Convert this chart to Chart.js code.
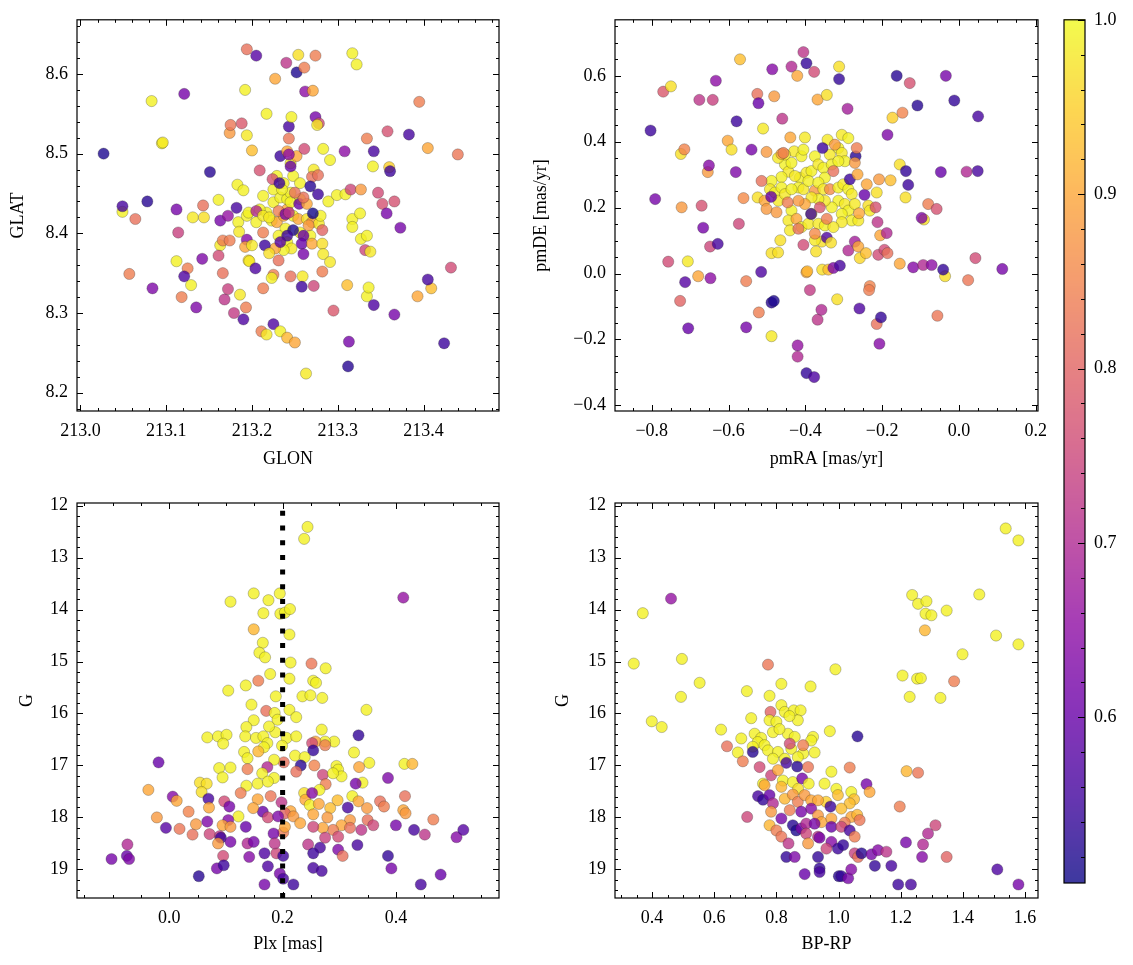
<!DOCTYPE html>
<html><head><meta charset="utf-8">
<script src="https://cdn.jsdelivr.net/npm/chart.js@4"></script>
<style>
html,body{margin:0;padding:0;background:#fff;}
#wrap{position:relative;width:1133px;height:965px;overflow:hidden;background:#fff;}
canvas{position:absolute;}
</style></head><body>
<div id="wrap">
<canvas id="c1" width="530" height="480" style="left:0;top:0;width:530px;height:480px"></canvas>
<canvas id="c2" width="530" height="480" style="left:530px;top:0;width:530px;height:480px"></canvas>
<canvas id="c3" width="530" height="485" style="left:0;top:480px;width:530px;height:485px"></canvas>
<canvas id="c4" width="530" height="485" style="left:530px;top:480px;width:530px;height:485px"></canvas>
<canvas id="cb" width="93" height="965" style="left:1040px;top:0;width:93px;height:965px"></canvas>
</div>
<script>
// ---------- data: [x, y, membership probability] ----------
const skyStars = [
[213.217,8.426,.99],[213.223,8.416,.99],[213.229,8.414,.90],[213.237,8.422,.90],[213.241,8.430,.90],[213.248,8.422,.99],[213.254,8.418,.90],[213.264,8.418,.97],[213.270,8.414,.88],[213.278,8.412,.98],[213.225,8.439,.99],[213.233,8.445,.99],[213.241,8.443,.99],[213.245,8.451,.99],[213.237,8.463,.99],[213.229,8.472,.99],[213.248,8.472,.99],[213.256,8.463,.99],[213.256,8.443,.99],[213.239,8.406,.99],[213.231,8.397,.99],[213.241,8.389,.99],[213.246,8.381,.98],[213.237,8.379,.99],[213.227,8.381,.90],[213.256,8.401,.99],[213.268,8.397,.99],[213.266,8.410,.88],[213.231,8.428,.84],[213.245,8.439,.99],[213.225,8.455,.99],[213.245,8.488,.98],[213.252,8.497,.90],[213.209,8.430,.99],[213.205,8.414,.99],[213.213,8.447,.99],[213.280,8.422,.99],
[213.027,8.500,.52],[213.049,8.427,.99],[213.049,8.434,.56],[213.078,8.440,.53],[213.064,8.418,.82],[213.083,8.566,.99],[213.095,8.513,.99],[213.096,8.514,.98],[213.121,8.575,.62],[213.112,8.430,.62],[213.114,8.401,.74],[213.131,8.420,.98],[213.143,8.435,.82],[213.144,8.420,.97],[213.151,8.477,.53],[213.161,8.442,.99],[213.163,8.416,.62],[213.163,8.385,.98],[213.161,8.372,.76],[213.166,8.391,.84],[213.174,8.391,.84],[213.174,8.526,.88],[213.175,8.536,.83],[213.188,8.538,.78],[213.183,8.461,.99],[213.190,8.454,.99],[213.182,8.432,.56],[213.172,8.422,.66],[213.184,8.414,.99],[213.185,8.402,.98],[213.194,8.523,.98],[213.192,8.580,.99],[213.194,8.631,.82],[213.205,8.623,.58],[213.200,8.504,.93],[213.194,8.422,.99],[213.196,8.426,.99],[213.194,8.392,.64],[213.192,8.383,.90],[213.200,8.385,.98],[213.196,8.366,.97],[213.197,8.365,.98],[213.204,8.356,.57],[213.205,8.428,.70],[213.209,8.479,.77],[213.186,8.323,.98],[213.193,8.307,.84],[213.179,8.300,.73],[213.190,8.292,.57],[213.168,8.317,.72],[213.172,8.330,.74],[213.166,8.350,.82],[213.125,8.356,.84],[213.121,8.346,.57],[213.129,8.335,.99],[213.112,8.365,.99],[213.118,8.320,.84],[213.135,8.307,.63],[213.142,8.368,.63],[213.084,8.331,.63],[213.057,8.349,.84],[213.217,8.550,.99],[213.227,8.594,.90],[213.224,8.468,.77],[213.213,8.422,.98],[213.220,8.420,.98],[213.213,8.401,.84],[213.215,8.385,.55],[213.220,8.375,.97],[213.225,8.348,.84],[213.223,8.344,.99],[213.213,8.331,.84],[213.225,8.286,.57],[213.211,8.277,.84],[213.217,8.273,.98],[213.233,8.277,.99],[213.241,8.269,.92],[213.250,8.263,.90],[213.245,8.346,.82],[213.231,8.366,.82],[213.235,8.455,.99],[213.232,8.463,.55],[213.233,8.497,.55],[213.241,8.503,.90],[213.243,8.499,.65],[213.243,8.519,.83],[213.243,8.534,.56],[213.246,8.546,.99],[213.240,8.614,.72],[213.254,8.624,.97],[213.252,8.602,.52],[213.261,8.608,.84],[213.262,8.578,.65],[213.271,8.579,.90],[213.274,8.623,.84],[213.274,8.546,.62],[213.278,8.538,.76],[213.276,8.536,.98],[213.261,8.506,.76],[213.245,8.484,.60],[213.272,8.480,.98],[213.283,8.506,.99],[213.291,8.492,.99],[213.270,8.471,.82],[213.277,8.473,.82],[213.268,8.459,.53],[213.277,8.449,.55],[213.255,8.437,.60],[213.264,8.437,.90],[213.260,8.445,.82],[213.250,8.451,.82],[213.271,8.425,.51],[213.248,8.404,.52],[213.260,8.397,.60],[213.258,8.387,.60],[213.260,8.374,.62],[213.270,8.387,.90],[213.282,8.404,.80],[213.282,8.387,.97],[213.283,8.374,.98],[213.291,8.364,.98],[213.282,8.352,.84],[213.259,8.346,.98],[213.258,8.333,.55],[213.272,8.334,.75],[213.263,8.224,.98],[213.289,8.440,.99],[213.299,8.448,.99],[213.309,8.449,.99],[213.308,8.503,.65],[213.315,8.455,.75],[213.327,8.455,.88],[213.317,8.418,.99],[213.317,8.408,.99],[213.326,8.425,.99],[213.327,8.393,.99],[213.334,8.397,.99],[213.332,8.379,.75],[213.338,8.377,.98],[213.311,8.335,.93],[213.295,8.303,.78],[213.313,8.264,.62],[213.312,8.233,.53],[213.317,8.626,.99],[213.322,8.612,.99],[213.334,8.519,.84],[213.342,8.503,.56],[213.341,8.484,.99],[213.334,8.321,.99],[213.336,8.332,.99],[213.342,8.310,.57],[213.347,8.451,.76],[213.352,8.437,.77],[213.366,8.440,.77],[213.357,8.425,.62],[213.360,8.483,.95],[213.361,8.478,.55],[213.358,8.528,.77],[213.373,8.407,.62],[213.366,8.298,.62],[213.383,8.524,.56],[213.395,8.565,.84],[213.405,8.507,.90],[213.393,8.321,.90],[213.409,8.331,.93],[213.405,8.342,.56],[213.424,8.262,.55],[213.432,8.357,.76],[213.440,8.499,.83],
[213.239,8.424,.62],[213.243,8.426,.72],[213.241,8.397,.55],[213.233,8.389,.58]
];

const pmStars = [
[-0.453,0.331,.99],[-0.444,0.309,.98],[-0.462,0.293,.99],[-0.429,0.371,.98],[-0.410,0.356,.99],[-0.414,0.291,.99],[-0.397,0.306,.98],[-0.384,0.311,.99],[-0.375,0.356,.99],[-0.366,0.331,.98],[-0.353,0.321,.99],[-0.349,0.291,.99],[-0.336,0.361,.98],[-0.331,0.331,.99],[-0.305,0.421,.98],[-0.288,0.411,.99],[-0.314,0.381,.99],[-0.305,0.366,.98],[-0.297,0.341,.99],[-0.342,0.406,.98],[-0.314,0.341,.99],[-0.418,0.261,.99],[-0.405,0.256,.98],[-0.392,0.281,.99],[-0.375,0.251,.88],[-0.366,0.276,.99],[-0.353,0.256,.98],[-0.336,0.256,.86],[-0.314,0.261,.99],[-0.301,0.271,.98],[-0.288,0.256,.99],[-0.279,0.241,.98],[-0.314,0.221,.99],[-0.297,0.211,.98],[-0.288,0.191,.99],[-0.271,0.211,.98],[-0.279,0.161,.99],[-0.262,0.161,.98],[-0.236,0.206,.97],[-0.232,0.191,.98],[-0.305,0.181,.99],[-0.305,0.156,.98],[-0.331,0.201,.99],[-0.349,0.221,.98],[-0.366,0.226,.99],[-0.384,0.231,.98],[-0.401,0.211,.90],[-0.418,0.221,.88],[-0.436,0.191,.99],[-0.444,0.161,.98],[-0.440,0.131,.98],[-0.423,0.166,.90],[-0.410,0.141,.99],[-0.392,0.151,.98],[-0.384,0.181,.99],[-0.366,0.151,.98],[-0.349,0.146,.99],[-0.327,0.141,.98],[-0.357,0.097,.97],[-0.375,0.101,.98],[-0.488,0.281,.99],[-0.492,0.256,.98],[-0.479,0.246,.99],[-0.470,0.221,.98],[-0.462,0.261,.99],[-0.453,0.241,.98],[-0.436,0.256,.99],[-0.427,0.296,.98],[-0.436,0.336,.99],[-0.453,0.361,.98],[-0.405,0.376,.99],
[-0.803,0.434,.55],[-0.791,0.226,.62],[-0.770,0.552,.78],[-0.750,0.568,.97],[-0.757,0.036,.76],[-0.726,-0.083,.80],[-0.724,0.363,.97],[-0.715,0.377,.85],[-0.722,0.201,.88],[-0.713,-0.026,.58],[-0.706,0.037,.98],[-0.705,-0.166,.60],[-0.679,-0.008,.90],[-0.676,0.527,.72],[-0.670,0.206,.77],[-0.666,0.139,.62],[-0.648,0.082,.75],[-0.654,0.308,.88],[-0.651,0.328,.64],[-0.647,-0.014,.65],[-0.641,0.527,.74],[-0.633,0.585,.65],[-0.628,0.090,.56],[-0.602,0.403,.90],[-0.592,0.376,.97],[-0.581,0.308,.63],[-0.579,0.462,.55],[-0.573,0.151,.75],[-0.570,0.650,.93],[-0.561,0.229,.86],[-0.554,-0.023,.84],[-0.554,-0.163,.62],[-0.540,0.376,.62],[-0.525,0.545,.82],[-0.522,0.517,.60],[-0.521,-0.118,.84],[-0.515,0.005,.57],[-0.514,0.281,.82],[-0.510,0.440,.98],[-0.501,0.369,.88],[-0.524,0.231,.97],[-0.506,0.221,.90],[-0.501,0.196,.88],[-0.488,0.062,.97],[-0.471,0.064,.97],[-0.488,-0.088,.53],[-0.482,-0.083,.52],[-0.488,-0.190,.98],[-0.489,0.233,.60],[-0.481,0.538,.88],[-0.475,0.186,.88],[-0.465,0.101,.97],[-0.460,0.470,.72],[-0.486,0.620,.64],[-0.471,0.351,.98],[-0.462,0.363,.90],[-0.457,0.366,.84],[-0.446,0.216,.84],[-0.439,0.413,.90],[-0.436,0.628,.70],[-0.421,0.600,.90],[-0.420,-0.218,.66],[-0.420,-0.252,.70],[-0.418,0.136,.82],[-0.405,0.672,.72],[-0.397,0.638,.54],[-0.405,0.087,.76],[-0.401,0.413,.98],[-0.397,0.004,.90],[-0.395,0.007,.92],[-0.397,-0.302,.54],[-0.377,-0.314,.57],[-0.388,-0.050,.73],[-0.385,0.181,.55],[-0.377,0.612,.76],[-0.375,0.121,.86],[-0.372,0.067,.97],[-0.368,-0.140,.72],[-0.358,-0.110,.70],[-0.368,0.528,.90],[-0.344,0.542,.97],[-0.355,0.381,.55],[-0.362,0.201,.78],[-0.344,0.166,.84],[-0.344,0.109,.57],[-0.333,0.094,.97],[-0.356,0.012,.97],[-0.340,0.012,.93],[-0.327,0.017,.63],[-0.310,0.024,.56],[-0.317,-0.078,.97],[-0.312,0.628,.97],[-0.312,0.590,.54],[-0.327,0.311,.82],[-0.323,0.391,.88],[-0.290,0.500,.68],[-0.288,0.070,.70],[-0.271,0.097,.68],[-0.269,0.356,.53],[-0.266,0.381,.84],[-0.271,0.336,.88],[-0.284,0.286,.55],[-0.264,0.301,.90],[-0.259,-0.106,.57],[-0.262,0.082,.90],[-0.258,0.047,.96],[-0.246,0.239,.60],[-0.242,0.062,.93],[-0.260,0.183,.90],[-0.240,0.271,.90],[-0.232,-0.038,.85],[-0.234,-0.050,.84],[-0.214,-0.153,.82],[-0.203,-0.133,.54],[-0.207,-0.213,.64],[-0.217,0.201,.77],[-0.212,0.156,.72],[-0.214,0.246,.97],[-0.208,0.286,.88],[-0.210,0.057,.76],[-0.205,0.116,.90],[-0.188,0.123,.70],[-0.194,0.072,.76],[-0.186,0.062,.82],[-0.186,0.421,.63],[-0.178,0.283,.93],[-0.173,0.473,.95],[-0.147,0.488,.85],[-0.162,0.600,.53],[-0.154,0.331,.97],[-0.139,0.231,.97],[-0.138,0.311,.54],[-0.132,0.269,.55],[-0.154,0.030,.90],[-0.128,0.578,.77],[-0.119,0.019,.64],[-0.108,0.510,.53],[-0.091,0.164,.97],[-0.097,0.169,.63],[-0.093,0.026,.70],[-0.080,0.211,.84],[-0.071,0.026,.65],[-0.058,0.196,.77],[-0.056,-0.128,.83],[-0.047,0.308,.60],[-0.036,-0.008,.97],[-0.041,0.012,.54],[-0.034,0.600,.62],[-0.012,0.525,.54],[0.020,0.309,.70],[0.024,-0.020,.83],[0.043,0.047,.76],[0.049,0.311,.56],[0.050,0.477,.56],[0.113,0.014,.62]
];

const plxStars = [
[0.244,12.41,.99],[0.238,12.64,.99],[0.413,13.77,.66],[0.149,13.69,.99],[0.175,13.82,.99],[0.195,13.69,.99],[0.108,13.85,.99],[0.196,14.08,.99],[0.204,14.06,.99],[0.213,13.99,.99],[0.166,14.07,.99],[0.212,14.48,.99],[0.149,14.38,.92],[0.165,14.64,.99],[0.159,14.83,.99],[0.169,14.92,.99],[0.214,15.02,.99],[0.251,15.04,.83],[0.276,15.13,.99],[0.178,15.24,.99],[0.157,15.37,.84],[0.212,15.33,.99],[0.254,15.37,.99],[0.259,15.41,.99],[0.135,15.46,.99],[0.104,15.56,.99],[0.235,15.67,.99],[0.249,15.65,.99],[0.270,15.70,.99],[0.188,15.67,.99],[0.145,15.83,.99],[0.348,15.93,.99],[0.171,15.95,.82],[0.186,15.99,.99],[0.212,15.93,.99],[0.224,16.07,.99],[0.191,16.12,.99],[0.149,16.13,.99],[0.136,16.26,.99],[0.187,16.36,.99],[0.176,16.25,.99],[0.269,16.31,.99],[0.067,16.46,.99],[0.086,16.44,.99],[0.101,16.41,.99],[0.095,16.58,.99],[0.134,16.44,.99],[0.153,16.47,.99],[0.166,16.44,.99],[0.173,16.57,.99],[0.207,16.47,.99],[0.224,16.44,.99],[0.334,16.42,.54],[0.291,16.54,.99],[0.275,16.54,.99],[0.258,16.54,.90],[0.252,16.57,.76],[0.275,16.61,.84],[0.199,16.62,.99],[0.167,16.65,.99],[0.157,16.73,.92],[0.132,16.74,.99],[0.254,16.71,.54],[0.326,16.75,.99],[0.222,16.81,.99],[0.202,16.94,.82],[0.185,16.89,.99],[0.138,16.86,.99],[0.239,16.84,.99],[0.353,16.95,.99],[0.415,16.97,.99],[0.429,16.97,.92],[0.232,17.00,.53],[0.256,17.00,.85],[0.224,17.12,.82],[0.173,17.03,.70],[0.138,17.07,.84],[0.108,17.04,.99],[0.088,17.05,.99],[0.295,17.01,.99],[0.298,17.08,.99],[0.304,17.21,.99],[0.335,17.03,.90],[0.164,17.15,.99],[0.185,17.24,.99],[0.271,17.18,.75],[0.289,17.15,.99],[0.386,17.24,.63],[0.341,17.33,.99],[0.329,17.35,.62],[0.276,17.36,.84],[0.265,17.47,.99],[0.156,17.35,.99],[0.136,17.39,.99],[0.174,17.31,.99],[0.094,17.23,.99],[0.238,17.53,.97],[0.240,17.66,.90],[0.252,17.53,.64],[0.126,17.53,.84],[0.179,17.59,.83],[0.156,17.65,.90],[0.323,17.59,.99],[0.416,17.59,.82],[0.372,17.69,.82],[0.334,17.69,.90],[0.297,17.67,.93],[0.248,17.76,.99],[0.264,17.74,.90],[0.097,17.69,.76],[0.106,17.79,.62],[0.315,17.81,.56],[0.379,17.79,.84],[0.349,17.82,.88],[0.284,17.82,.93],[0.198,17.71,.72],[0.165,17.89,.60],[0.148,17.82,.90],[0.214,17.88,.90],[0.204,17.92,.80],[0.174,18.00,.76],[0.254,17.94,.90],[0.279,18.00,.88],[0.413,17.86,.90],[0.417,17.92,.88],[0.466,18.04,.84],[0.350,18.05,.82],[0.319,18.05,.88],[0.304,18.15,.90],[0.219,17.98,.88],[0.192,17.98,.63],[0.231,18.11,.90],[0.122,17.98,.99],[0.104,18.05,.64],[0.094,18.15,.90],[0.108,18.18,.88],[0.135,18.18,.60],[0.400,18.15,.62],[0.432,18.24,.56],[0.451,18.33,.72],[0.507,18.38,.64],[0.519,18.24,.58],[0.360,18.15,.75],[0.339,18.24,.72],[0.319,18.20,.82],[0.289,18.24,.84],[0.271,18.20,.90],[0.254,18.18,.75],[0.201,18.29,.84],[0.204,18.18,.90],[0.184,18.31,.62],[0.275,18.39,.74],[0.298,18.37,.76],[0.332,18.53,.56],[0.298,18.62,.63],[0.306,18.74,.82],[0.266,18.58,.56],[0.245,18.52,.72],[0.254,18.69,.55],[0.089,18.36,.72],[0.091,18.39,.55],[0.086,18.50,.88],[0.108,18.47,.62],[0.095,18.74,.76],[0.084,18.98,.62],[0.096,18.92,.55],[0.138,18.50,.70],[0.149,18.47,.62],[0.141,18.76,.64],[0.168,18.69,.57],[0.189,18.69,.75],[0.174,18.94,.57],[0.186,18.50,.72],[0.201,18.74,.55],[0.195,19.08,.62],[0.201,19.18,.56],[0.168,19.29,.62],[0.219,19.29,.55],[0.254,18.97,.56],[0.269,19.03,.56],[0.386,18.74,.54],[0.392,18.98,.62],[0.444,19.29,.56],[0.479,19.10,.60],[-0.102,18.80,.62],[-0.074,18.52,.70],[-0.075,18.74,.60],[-0.071,18.80,.63],[-0.037,17.47,.90],[-0.019,16.94,.60],[-0.022,18.00,.88],[-0.006,18.20,.58],[0.006,17.60,.64],[0.013,17.68,.90],[0.018,18.22,.83],[0.034,17.89,.85],[0.041,18.33,.82],[0.047,18.13,.88],[0.052,19.13,.53],[0.054,17.33,.97],[0.066,17.35,.97],[0.057,17.51,.97],[0.067,18.08,.63],[0.069,17.64,.56],[0.070,17.81,.90],[0.071,18.32,.75]
];

const cmdStars = [
[1.538,12.44,.99],[1.579,12.67,.99],[0.461,13.79,.66],[0.370,14.07,.99],[0.341,15.04,.99],[0.496,14.95,.99],[0.553,15.41,.99],[0.493,15.68,.99],[0.399,16.15,.99],[0.431,16.26,.99],[0.622,16.31,.99],[0.641,16.63,.82],[1.237,13.72,.99],[1.256,13.89,.99],[1.283,13.84,.99],[1.280,14.08,.99],[1.299,14.11,.99],[1.348,14.02,.99],[1.453,13.71,.99],[1.278,14.40,.92],[1.507,14.50,.99],[1.579,14.67,.99],[1.399,14.86,.99],[1.206,15.27,.99],[1.253,15.33,.99],[1.265,15.32,.99],[1.372,15.38,.84],[1.229,15.68,.99],[1.328,15.70,.99],[0.990,15.15,.99],[0.773,15.06,.83],[0.816,15.43,.99],[0.910,15.48,.99],[0.705,15.57,.99],[0.778,15.66,.99],[0.816,15.84,.99],[0.719,16.09,.99],[0.781,15.97,.80],[0.827,15.97,.99],[0.856,15.94,.99],[0.878,15.94,.99],[0.972,16.34,.99],[1.061,16.44,.53],[0.687,16.48,.99],[0.730,16.39,.99],[0.751,16.47,.99],[0.778,16.13,.99],[0.800,16.16,.99],[0.789,16.36,.99],[0.837,16.39,.99],[0.859,16.45,.99],[0.918,16.45,.99],[0.912,16.52,.99],[0.848,16.68,.99],[0.886,16.77,.99],[0.869,16.13,.99],[0.810,16.30,.99],[0.842,16.05,.99],[0.740,16.55,.99],[0.843,16.58,.76],[0.886,16.61,.84],[0.762,16.61,.99],[0.724,16.64,.99],[0.773,16.71,.99],[0.805,16.74,.99],[0.676,16.75,.99],[0.923,16.75,.99],[0.724,16.74,.53],[0.789,16.87,.99],[0.827,16.87,.99],[0.869,16.84,.99],[0.692,16.92,.84],[0.746,17.03,.76],[0.832,16.95,.56],[0.867,17.02,.53],[0.902,17.03,.83],[0.977,17.12,.99],[1.036,17.04,.84],[1.219,17.11,.92],[1.256,17.14,.83],[0.783,17.19,.75],[0.805,17.09,.90],[0.821,17.29,.99],[0.853,17.32,.99],[0.883,17.25,.62],[0.904,17.35,.99],[0.955,17.35,.99],[0.757,17.35,.99],[0.762,17.38,.90],[0.816,17.41,.92],[0.870,17.45,.97],[1.090,17.36,.62],[1.100,17.51,.90],[1.041,17.51,.99],[0.993,17.45,.99],[0.960,17.70,.95],[1.050,17.65,.93],[0.741,17.59,.56],[0.757,17.66,.54],[0.778,17.57,.60],[0.789,17.73,.70],[0.827,17.64,.92],[0.853,17.56,.88],[0.869,17.70,.84],[0.891,17.57,.88],[0.912,17.67,.90],[0.934,17.67,.90],[0.998,17.57,.93],[1.036,17.73,.93],[0.974,17.79,.55],[1.009,17.83,.93],[1.197,17.79,.84],[0.706,17.99,.75],[0.783,17.89,.88],[0.816,18.02,.62],[0.843,17.86,.84],[0.880,17.89,.62],[0.912,17.83,.64],[0.934,17.96,.88],[0.945,18.09,.90],[0.977,18.02,.90],[1.041,17.99,.90],[1.060,17.95,.92],[1.068,18.05,.83],[1.020,18.10,.84],[0.778,18.15,.92],[0.800,18.25,.84],[0.816,18.37,.83],[0.853,18.15,.53],[0.864,18.25,.52],[0.880,18.21,.62],[0.896,18.12,.70],[0.923,18.12,.62],[0.977,18.18,.60],[1.009,18.18,.75],[1.036,18.25,.56],[1.052,18.37,.84],[0.896,18.31,.75],[0.934,18.37,.72],[0.902,18.50,.88],[0.939,18.39,.62],[0.977,18.47,.64],[0.998,18.60,.55],[1.015,18.53,.54],[0.961,18.60,.75],[0.839,18.50,.72],[0.832,18.76,.54],[0.859,18.76,.63],[0.934,18.76,.54],[0.939,18.98,.54],[0.939,19.05,.56],[0.891,19.09,.60],[1.001,19.13,.53],[1.009,19.13,.54],[1.031,19.17,.62],[1.041,19.00,.64],[1.052,18.69,.74],[1.063,18.76,.82],[1.074,18.69,.53],[1.106,18.71,.62],[1.127,18.63,.64],[1.154,18.66,.72],[1.117,18.93,.54],[1.170,18.93,.56],[1.192,19.29,.55],[1.233,19.29,.56],[1.217,18.48,.62],[1.272,18.52,.70],[1.288,18.31,.70],[1.312,18.15,.75],[1.269,18.76,.64],[1.348,18.76,.80],[1.511,19.00,.57],[1.579,19.29,.62]
];

const plxCut = 0.2;                 // vertical reference line (mas)
const probRange = [0.505, 1.0];     // colour-bar limits
const cbTickLabels = [0.6, 0.7, 0.8, 0.9, 1.0];

// ---------- styling helpers ----------
const FONT = "'Liberation Serif', 'DejaVu Serif', serif";
const FS = 18;
const PLASMA = ['#0d0887','#41049d','#6a00a8','#8f0da4','#b12a90','#cc4778','#e16462','#f2844b','#fca636','#fcce25','#f0f921'];
const ALPHA = 0.8;
function hex(h){return [parseInt(h.substr(1,2),16),parseInt(h.substr(3,2),16),parseInt(h.substr(5,2),16)];}
const PL = PLASMA.map(hex);
function plasma(t){
  t = Math.max(0, Math.min(1, t));
  const f = t*(PL.length-1), i = Math.min(PL.length-2, Math.floor(f)), r = f-i;
  const a = PL[i], b = PL[i+1];
  return [0,1,2].map(k => Math.round(a[k] + (b[k]-a[k])*r));
}
function probColor(p){
  const c = plasma((p-probRange[0])/(probRange[1]-probRange[0]));
  return `rgba(${c[0]},${c[1]},${c[2]},${ALPHA})`;
}
function fmt(v, d){ const s = Math.abs(v).toFixed(d); return (v < -1e-9 ? '\u2212' : '') + s; }
function minorVals(scale, step){
  const out = [];
  const a = Math.ceil(scale.min/step - 1e-6), b = Math.floor(scale.max/step + 1e-6);
  for (let k=a;k<=b;k++) out.push(k*step);
  return out;
}

const frameTicks = {
  id: 'frameTicks',
  afterDraw(chart, args, o){
    const {ctx, chartArea:a, scales:{x, y}} = chart;
    ctx.save();
    ctx.strokeStyle = '#000';
    ctx.lineWidth = 1;
    ctx.beginPath();
    const tx = (v, len) => { const p = Math.round(x.getPixelForValue(v))+0.5; if (p < a.left-0.5 || p > a.right+0.5) return; ctx.moveTo(p, a.bottom); ctx.lineTo(p, a.bottom-len); ctx.moveTo(p, a.top); ctx.lineTo(p, a.top+len); };
    const ty = (v, len) => { const p = Math.round(y.getPixelForValue(v))+0.5; if (p < a.top-0.5 || p > a.bottom+0.5) return; ctx.moveTo(a.left, p); ctx.lineTo(a.left+len, p); ctx.moveTo(a.right, p); ctx.lineTo(a.right-len, p); };
    minorVals(x, o.minorX).forEach(v => tx(v, 3));
    minorVals(y, o.minorY).forEach(v => ty(v, 3));
    x.ticks.forEach(t => tx(t.value, 6));
    y.ticks.forEach(t => ty(t.value, 6));
    ctx.stroke();
    ctx.lineWidth = 1.2;
    ctx.strokeRect(a.left, a.top, a.right-a.left, a.bottom-a.top);
    ctx.restore();
  }
};

function panel(id, cfg){
  const datasets = [];
  if (cfg.extra) datasets.push(cfg.extra);
  datasets.push({
    type: 'scatter',
    data: cfg.stars.map(s => ({x:s[0], y:s[1]})),
    backgroundColor: cfg.stars.map(s => probColor(s[2])),
    borderColor: 'rgba(40,40,40,0.55)',
    borderWidth: 0.5,
    pointRadius: 5.6,
    pointHoverRadius: 5.6,
    order: 2
  });
  return new Chart(document.getElementById(id), {
    type: 'scatter',
    data: {datasets},
    plugins: [frameTicks],
    options: {
      responsive: false, animation: false, devicePixelRatio: 1, events: [],
      layout: {padding: cfg.pad},
      plugins: {legend:{display:false}, tooltip:{enabled:false}, frameTicks:{minorX:cfg.x.minor, minorY:cfg.y.minor}},
      scales: {
        x: {
          type:'linear', min:cfg.x.min, max:cfg.x.max,
          grid:{display:false, drawTicks:false}, border:{display:false},
          ticks:{stepSize:cfg.x.step, includeBounds:false, color:'#000', padding:cfg.x.lpad, maxRotation:0, autoSkip:false,
                 font:{family:FONT, size:FS}, callback:v => fmt(v, 1)},
          title:{display:true, text:cfg.x.title, color:'#000', font:{family:FONT, size:FS}, padding:{top:0, bottom:cfg.x.tpad}},
          afterFit: s => { s.height = cfg.x.h; }
        },
        y: {
          type:'linear', min:cfg.y.min, max:cfg.y.max, reverse:!!cfg.y.reverse,
          grid:{display:false, drawTicks:false}, border:{display:false},
          ticks:{stepSize:cfg.y.step, includeBounds:false, color:'#000', padding:cfg.y.lpad, autoSkip:false,
                 font:{family:FONT, size:FS}, callback:v => fmt(v, cfg.y.dec)},
          title:{display:true, text:cfg.y.title, color:'#000', font:{family:FONT, size:FS}, padding:{top:cfg.y.tpad, bottom:0}},
          afterFit: s => { s.width = cfg.y.w; }
        }
      }
    }
  });
}

panel('c1', {
  stars: skyStars, pad:{left:0, right:31, top:15, bottom:0},
  x:{min:212.996, max:213.488, step:0.1, minor:0.02, title:'GLON', h:69, lpad:9, tpad:10},
  y:{min:8.177, max:8.668, step:0.1, minor:0.02, dec:1, title:'GLAT', w:77, lpad:9, tpad:7}
});
panel('c2', {
  stars: pmStars, pad:{left:0, right:22, top:15, bottom:0},
  x:{min:-0.8956, max:0.206, step:0.2, minor:0.05, title:'pmRA [mas/yr]', h:69, lpad:9, tpad:10},
  y:{min:-0.417, max:0.77, step:0.2, minor:0.05, dec:1, title:'pmDE [mas/yr]', w:85, lpad:9, tpad:0}
});
panel('c3', {
  stars: plxStars, pad:{left:0, right:31, top:23, bottom:0},
  extra: {type:'line', data:[{x:plxCut, y:19.55},{x:plxCut, y:11.95}], borderColor:'#000', borderWidth:5,
          borderDash:[5,9.7], borderCapStyle:'butt', pointRadius:0, fill:false, order:1},
  x:{min:-0.163, max:0.582, step:0.2, minor:0.05, title:'Plx [mas]', h:67, lpad:9, tpad:10},
  y:{min:11.95, max:19.55, step:1, minor:0.2, dec:0, reverse:true, title:'G', w:77, lpad:9, tpad:16}
});
panel('c4', {
  stars: cmdStars, pad:{left:0, right:22, top:23, bottom:0},
  x:{min:0.2806, max:1.642, step:0.2, minor:0.05, title:'BP-RP', h:67, lpad:9, tpad:10},
  y:{min:11.95, max:19.55, step:1, minor:0.2, dec:0, reverse:true, title:'G', w:85, lpad:9, tpad:22}
});

// ---------- colour bar ----------
const cbPlugin = {
  id: 'cbDraw',
  beforeDatasetsDraw(chart){
    const {ctx, chartArea:a, scales:{y}} = chart;
    ctx.save();
    for (let py = Math.floor(a.top); py < a.bottom; py++){
      ctx.fillStyle = probColor(y.getValueForPixel(py+0.5));
      ctx.fillRect(a.left, py, a.right-a.left, 1);
    }
    ctx.restore();
  },
  afterDraw(chart){
    const {ctx, chartArea:a, scales:{y}} = chart;
    ctx.save();
    ctx.strokeStyle = '#000'; ctx.lineWidth = 1;
    ctx.beginPath();
    minorVals(y, 0.02).forEach(v => { const p = Math.round(y.getPixelForValue(v))+0.5; ctx.moveTo(a.right, p); ctx.lineTo(a.right-4, p); });
    y.ticks.forEach(t => { const p = Math.round(y.getPixelForValue(t.value))+0.5; ctx.moveTo(a.right, p); ctx.lineTo(a.right-7, p); });
    ctx.stroke();
    ctx.lineWidth = 1.2;
    ctx.strokeRect(a.left, a.top, a.right-a.left, a.bottom-a.top);
    ctx.restore();
  }
};
new Chart(document.getElementById('cb'), {
  type:'scatter',
  data:{datasets:[{data:[]}]},
  plugins:[cbPlugin],
  options:{
    responsive:false, animation:false, devicePixelRatio:1, events:[],
    layout:{padding:{left:24, right:0, top:16, bottom:82}},
    plugins:{legend:{display:false}, tooltip:{enabled:false}},
    scales:{
      x:{display:false, min:0, max:1},
      y:{position:'right', min:probRange[0], max:probRange[1],
         grid:{display:false, drawTicks:false}, border:{display:false},
         afterBuildTicks: s => { s.ticks = cbTickLabels.map(v => ({value:v})); },
         ticks:{color:'#000', padding:9, font:{family:FONT, size:FS}, callback:v => fmt(v,1)},
         afterFit: s => { s.width = 48; }
      }
    }
  }
});
</script>
</body></html>
